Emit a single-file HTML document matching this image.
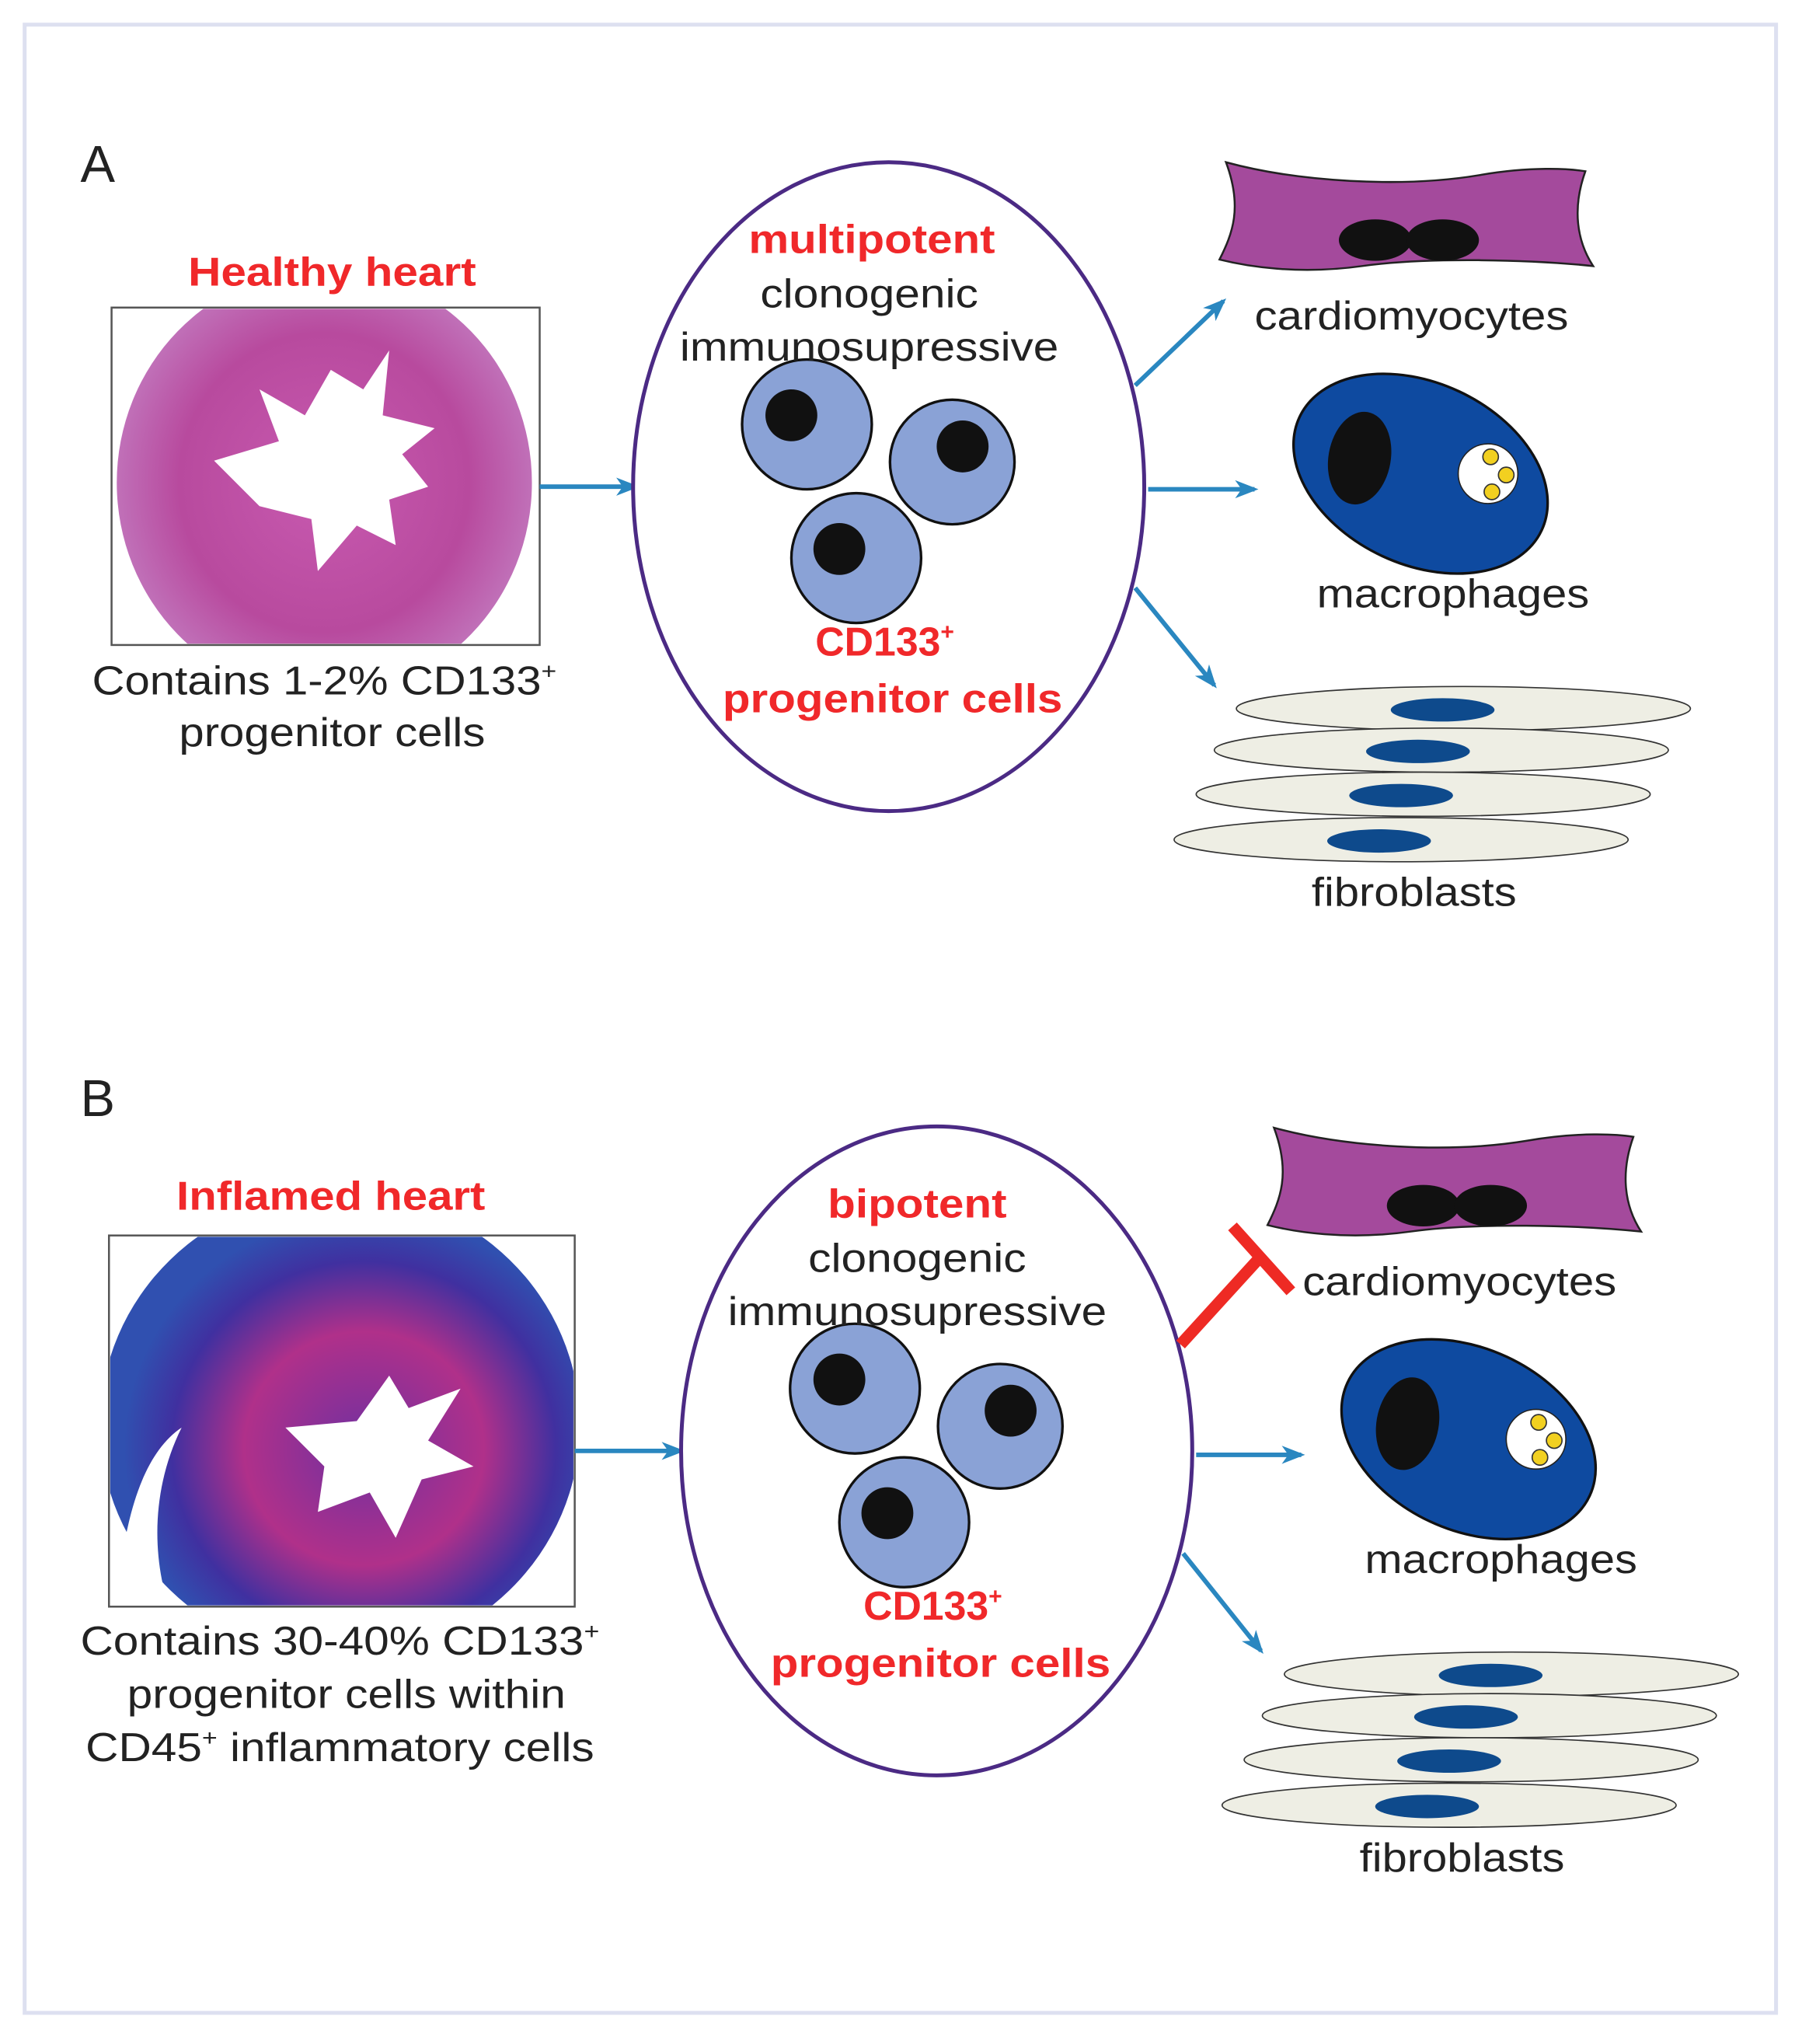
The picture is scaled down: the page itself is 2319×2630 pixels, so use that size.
<!DOCTYPE html>
<html><head><meta charset="utf-8"><style>html,body{margin:0;padding:0;background:#fff}svg{display:block}</style></head><body>
<svg width="2319" height="2630" viewBox="0 0 1389 1575" preserveAspectRatio="none" xmlns="http://www.w3.org/2000/svg" font-family="'Liberation Sans', sans-serif">
<defs>
<radialGradient id="hA" cx="0.5" cy="0.5" r="0.5"><stop offset="0" stop-color="#c85ab0"/><stop offset="0.7" stop-color="#b84a9e"/><stop offset="1" stop-color="#c070b8"/></radialGradient>
<radialGradient id="hB" cx="0.55" cy="0.55" r="0.5"><stop offset="0" stop-color="#7030a0"/><stop offset="0.5" stop-color="#b0308a"/><stop offset="0.8" stop-color="#4030a0"/><stop offset="1" stop-color="#3050b0"/></radialGradient>
<clipPath id="cA"><rect x="87" y="238" width="328" height="258"/></clipPath>
<clipPath id="cB"><rect x="85" y="953" width="357" height="284"/></clipPath>
<marker id="ar" markerWidth="18" markerHeight="16" refX="15" refY="8" orient="auto" markerUnits="userSpaceOnUse"><path d="M0,1 L18,8 L0,15 L5,8Z" fill="#2a87c0"/></marker>
<g id="right">
<path d="M945,125 C1000,140 1080,145 1140,135 C1180,128 1210,130 1222,132 C1212,160 1215,185 1228,205 C1180,200 1100,198 1050,205 C1000,212 960,205 940,200 C950,180 958,160 945,125Z" fill="#a44a9c" stroke="#222" stroke-width="1.5"/>
<ellipse cx="1060" cy="185" rx="28" ry="16" fill="#111"/><ellipse cx="1112" cy="185" rx="28" ry="16" fill="#111"/>
<text x="1088" y="254" font-size="31" text-anchor="middle" fill="#222" textLength="242" lengthAdjust="spacingAndGlyphs">cardiomyocytes</text>
<ellipse cx="1095" cy="365" rx="103" ry="70" transform="rotate(25 1095 365)" fill="#0e4aa0" stroke="#111" stroke-width="2"/>
<ellipse cx="1048" cy="353" rx="24" ry="36" transform="rotate(10 1048 353)" fill="#111"/>
<circle cx="1147" cy="365" r="23" fill="#fff" stroke="#222"/>
<circle cx="1149" cy="352" r="6" fill="#f2d020" stroke="#333"/><circle cx="1161" cy="366" r="6" fill="#f2d020" stroke="#333"/><circle cx="1150" cy="379" r="6" fill="#f2d020" stroke="#333"/>
<text x="1120" y="468" font-size="31" text-anchor="middle" fill="#222" textLength="210" lengthAdjust="spacingAndGlyphs">macrophages</text>
<ellipse cx="1128" cy="546" rx="175" ry="17" fill="#eeeee4" stroke="#333"/><ellipse cx="1112" cy="547" rx="40" ry="9" fill="#0e4a8c"/>
<ellipse cx="1111" cy="578" rx="175" ry="17" fill="#eeeee4" stroke="#333"/><ellipse cx="1093" cy="579" rx="40" ry="9" fill="#0e4a8c"/>
<ellipse cx="1097" cy="612" rx="175" ry="17" fill="#eeeee4" stroke="#333"/><ellipse cx="1080" cy="613" rx="40" ry="9" fill="#0e4a8c"/>
<ellipse cx="1080" cy="647" rx="175" ry="17" fill="#eeeee4" stroke="#333"/><ellipse cx="1063" cy="648" rx="40" ry="9" fill="#0e4a8c"/>
<text x="1090" y="698" font-size="31" text-anchor="middle" fill="#222" textLength="158" lengthAdjust="spacingAndGlyphs">fibroblasts</text>
</g>
<g id="mid">
<ellipse cx="685" cy="375" rx="197" ry="250" fill="#fff" stroke="#4b2a84" stroke-width="3"/>
<circle cx="622" cy="327" r="50" fill="#8aa2d6" stroke="#111" stroke-width="2"/><circle cx="610" cy="320" r="20" fill="#111"/>
<circle cx="734" cy="356" r="48" fill="#8aa2d6" stroke="#111" stroke-width="2"/><circle cx="742" cy="344" r="20" fill="#111"/>
<circle cx="660" cy="430" r="50" fill="#8aa2d6" stroke="#111" stroke-width="2"/><circle cx="647" cy="423" r="20" fill="#111"/>
<text x="670" y="237" font-size="31" text-anchor="middle" fill="#222" textLength="168" lengthAdjust="spacingAndGlyphs">clonogenic</text>
<text x="670" y="278" font-size="31" text-anchor="middle" fill="#222" textLength="292" lengthAdjust="spacingAndGlyphs">immunosupressive</text>
<text x="682" y="505" font-size="31" font-weight="bold" text-anchor="middle" fill="#f0282a">CD133<tspan font-size="18" dy="-12">+</tspan></text>
<text x="688" y="549" font-size="31" font-weight="bold" text-anchor="middle" fill="#f0282a" textLength="262" lengthAdjust="spacingAndGlyphs">progenitor cells</text>
</g>
</defs>
<rect x="19" y="19" width="1350" height="1532" fill="none" stroke="#dde0f0" stroke-width="3"/>
<!-- A -->
<text x="62" y="140" font-size="40" fill="#222">A</text>
<text x="256" y="220" font-size="31" font-weight="bold" text-anchor="middle" fill="#f0282a" textLength="222" lengthAdjust="spacingAndGlyphs">Healthy heart</text>
<rect x="86" y="237" width="330" height="260" fill="#fff" stroke="#555" stroke-width="1.5"/>
<g clip-path="url(#cA)"><ellipse cx="250" cy="372" rx="160" ry="165" fill="url(#hA)"/>
<path d="M165,355 L215,340 L200,300 L235,320 L255,285 L280,300 L300,270 L295,320 L335,330 L310,350 L330,375 L300,385 L305,420 L275,405 L245,440 L240,400 L200,390 Z" fill="#fff"/></g>
<text x="250" y="535" font-size="31" text-anchor="middle" fill="#222" textLength="358" lengthAdjust="spacingAndGlyphs">Contains 1-2% CD133<tspan font-size="18" dy="-12">+</tspan></text>
<text x="256" y="575" font-size="31" text-anchor="middle" fill="#222" textLength="236" lengthAdjust="spacingAndGlyphs">progenitor cells</text>
<line x1="416" y1="375" x2="490" y2="375" stroke="#2a87c0" stroke-width="3.5" marker-end="url(#ar)"/>
<use href="#mid"/>
<text x="672" y="195" font-size="31" font-weight="bold" text-anchor="middle" fill="#f0282a" textLength="190" lengthAdjust="spacingAndGlyphs">multipotent</text>
<line x1="875" y1="297" x2="943" y2="232" stroke="#2a87c0" stroke-width="3.5" marker-end="url(#ar)"/>
<line x1="885" y1="377" x2="967" y2="377" stroke="#2a87c0" stroke-width="3.5" marker-end="url(#ar)"/>
<line x1="875" y1="453" x2="936" y2="528" stroke="#2a87c0" stroke-width="3.5" marker-end="url(#ar)"/>
<use href="#right"/>
<!-- B -->
<text x="62" y="860" font-size="40" fill="#222">B</text>
<text x="255" y="932" font-size="31" font-weight="bold" text-anchor="middle" fill="#f0282a" textLength="238" lengthAdjust="spacingAndGlyphs">Inflamed heart</text>
<rect x="84" y="952" width="359" height="286" fill="#fff" stroke="#555" stroke-width="1.5"/>
<g clip-path="url(#cB)"><ellipse cx="262" cy="1098" rx="185" ry="180" fill="url(#hB)"/>
<path d="M220,1100 L275,1095 L300,1060 L315,1085 L355,1070 L330,1110 L365,1130 L325,1140 L305,1185 L285,1150 L245,1165 L250,1130 Z" fill="#fff"/>
<path d="M90,1238 C95,1170 110,1120 140,1100 C120,1140 115,1190 130,1238Z" fill="#fff"/></g>
<text x="262" y="1275" font-size="31" text-anchor="middle" fill="#222" textLength="400" lengthAdjust="spacingAndGlyphs">Contains 30-40% CD133<tspan font-size="18" dy="-12">+</tspan></text>
<text x="267" y="1316" font-size="31" text-anchor="middle" fill="#222" textLength="338" lengthAdjust="spacingAndGlyphs">progenitor cells within</text>
<text x="262" y="1357" font-size="31" text-anchor="middle" fill="#222" textLength="392" lengthAdjust="spacingAndGlyphs">CD45<tspan font-size="18" dy="-12">+</tspan><tspan dy="12"> inflammatory cells</tspan></text>
<line x1="443" y1="1118" x2="525" y2="1118" stroke="#2a87c0" stroke-width="3.5" marker-end="url(#ar)"/>
<use href="#mid" transform="translate(37,743)"/>
<text x="707" y="938" font-size="31" font-weight="bold" text-anchor="middle" fill="#f0282a" textLength="138" lengthAdjust="spacingAndGlyphs">bipotent</text>
<line x1="910" y1="1036" x2="972" y2="968" stroke="#ee2a24" stroke-width="9"/>
<line x1="950" y1="945" x2="995" y2="995" stroke="#ee2a24" stroke-width="9"/>
<line x1="922" y1="1121" x2="1003" y2="1121" stroke="#2a87c0" stroke-width="3.5" marker-end="url(#ar)"/>
<line x1="912" y1="1197" x2="972" y2="1272" stroke="#2a87c0" stroke-width="3.5" marker-end="url(#ar)"/>
<use href="#right" transform="translate(37,744)"/>
</svg>
</body></html>
